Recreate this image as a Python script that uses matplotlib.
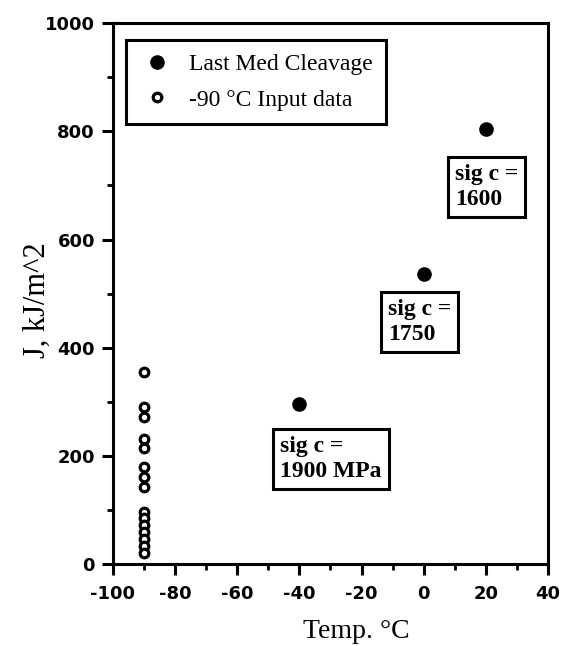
import matplotlib
matplotlib.use("Agg")
import matplotlib.pyplot as plt
from matplotlib.ticker import MultipleLocator, FixedLocator

# Data
med_temp = [-40, 0, 20]
med_J = [295, 537, 805]
med_labels = ["sig c =\n1900 MPa", "sig c =\n1750", "sig c =\n1600"]
label_pos_x = [-46.2, -11.6, 10.0]
label_pos_y = [237, 490, 740]

input_temp = [-90] * 15
input_J = [355, 290, 271, 232, 214, 180, 161, 143, 97, 85, 72, 60, 47, 33, 20]

xticks = [-100, -80, -60, -40, -20, 0, 20, 40]
xtick_labels = ["-100", "-80", "-60", "-40", "-20", "0", "20", "40"]
yticks = [0, 200, 400, 600, 800, 1000]
ytick_labels = ["0", "200", "400", "600", "800", "1000"]

serif = ["Liberation Serif", "DejaVu Serif"]
sans = ["DejaVu Sans"]

fig = plt.figure(figsize=(5.66, 6.46), dpi=100)
ax = fig.add_axes([0.1996, 0.127, 0.7685, 0.837])

ax.plot(med_temp, med_J, linestyle="none", marker="o", markersize=9.5,
        color="black", label="Last Med Cleavage")
ax.plot(input_temp, input_J, linestyle="none", marker="o", markersize=6.2,
        markerfacecolor="white", markeredgecolor="black", markeredgewidth=2.3,
        label="-90 \u00b0C Input data")

for tx, ty, lab in zip(label_pos_x, label_pos_y, med_labels):
    ax.text(tx, ty, lab, ha="left", va="top", fontsize=17, family=serif,
            fontweight="bold", linespacing=1.25,
            bbox=dict(boxstyle="square,pad=0.3", facecolor="white",
                      edgecolor="black", linewidth=2.2))

ax.set_xlim(-100, 40)
ax.set_ylim(0, 1000)
ax.xaxis.set_major_locator(FixedLocator(xticks))
ax.set_xticklabels(xtick_labels)
ax.yaxis.set_major_locator(FixedLocator(yticks))
ax.set_yticklabels(ytick_labels)
ax.xaxis.set_minor_locator(MultipleLocator(10))
ax.yaxis.set_minor_locator(MultipleLocator(100))

ax.tick_params(which="major", direction="out", length=8, width=2.2,
               labelsize=13, top=False, right=False)
ax.tick_params(axis="x", which="major", pad=7)
ax.tick_params(axis="y", which="major", pad=5)
ax.tick_params(which="minor", direction="out", length=4.5, width=2,
               top=False, right=False)
for lbl in ax.get_xticklabels() + ax.get_yticklabels():
    lbl.set_fontweight("bold")
    lbl.set_family(sans)

for sp in ax.spines.values():
    sp.set_linewidth(2.2)

fig.text(356 / 566, 1 - 632 / 646, "Temp. \u00b0C", fontsize=20, family=serif,
         ha="center", va="center")
fig.text(37 / 566, 1 - 300 / 646, "J, kJ/m^2", fontsize=22, family=serif,
         ha="center", va="center", rotation=90)

leg = ax.legend(loc="upper left", bbox_to_anchor=(0.03, 0.969),
                prop={"family": serif, "size": 17}, frameon=True,
                fancybox=False, edgecolor="black", framealpha=1,
                borderpad=0.57, labelspacing=0.6, handletextpad=0.6,
                handlelength=1.5, borderaxespad=0)
leg.get_frame().set_linewidth(2.2)

fig.savefig("out.png", dpi=100)
